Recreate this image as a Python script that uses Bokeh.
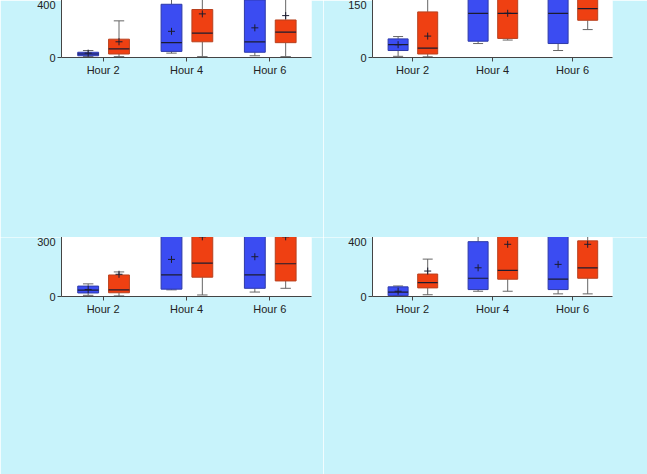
from bokeh.plotting import figure
from bokeh.models import Range1d, FixedTicker, Label, Legend, LegendItem, Title
from bokeh.layouts import gridplot
from bokeh.core.properties import value
from bokeh.embed import file_html
from bokeh.resources import INLINE

# ---------------- data ----------------
hours = ["Hour 2", "Hour 4", "Hour 6"]
ctrl_label = "Control group"
ylabel = "Acetylamantadine concentration (ng/ml)"
title_line1 = "Acetylamantadine concentration"

# Panel A: breast cancer vs control
a_ctrl_low = [1, 5, 2]
a_ctrl_q1 = [2, 7, 6]
a_ctrl_med = [4, 17, 18]
a_ctrl_q3 = [6, 61, 66]
a_ctrl_high = [8, 80, 113]
a_ctrl_mean = [5, 30, 34]
a_bc_low = [1, 1, 1]
a_bc_q1 = [4, 18, 17]
a_bc_med = [10, 28, 29]
a_bc_q3 = [21, 55, 43]
a_bc_high = [42, 105, 69]
a_bc_mean = [18, 50, 48]
a_out_hour = [0, 0, 0, 1, 1, 1, 1, 2, 2, 2, 2, 2, 2]
a_out_val = [271, 78, 70, 306, 229, 176, 114, 381, 244, 145, 113, 90, 87]
a_p = ["p = 0.02", "p = 0.36", "p = 0.18"]
a_subtitle = "breast cancer vs. control group"
a_bc_label = "Breast cancer"

# Panel B: stage II
b_ctrl_low = [0.5, 6, 3]
b_ctrl_q1 = [3, 7, 6]
b_ctrl_med = [5.5, 19, 19]
b_ctrl_q3 = [8, 63, 68]
b_ctrl_high = [9, 81, 113]
b_ctrl_mean = [5.5, 32, 34]
b_bc_low = [0.3, 7.5, 12]
b_bc_q1 = [1.5, 8.2, 16]
b_bc_med = [4, 19, 21]
b_bc_q3 = [19.6, 29, 40.6]
b_bc_high = [30.6, 33, 57]
b_bc_mean = [9.2, 19, 26.4]
b_out_hour = []
b_out_val = []
b_p = ["p = 0.60", "p = 0.75", "p = 0.75"]
b_subtitle = "Stage II breast cancer vs. control group"
b_bc_label = "Stage II breast cancer"

# Panel C: stage III
c_ctrl_low = [1, 5.7, 3.8]
c_ctrl_q1 = [3, 6.3, 7]
c_ctrl_med = [5.5, 18.4, 18.4]
c_ctrl_q3 = [8.9, 62.8, 68.5]
c_ctrl_high = [10.8, 81, 112]
c_ctrl_mean = [6, 31.7, 34]
c_bc_low = [0.5, 1.3, 7]
c_bc_q1 = [3.2, 16.5, 13.3]
c_bc_med = [5.7, 28.5, 28]
c_bc_q3 = [18.4, 54.5, 59.6]
c_bc_high = [21, 106, 112]
c_bc_mean = [19, 51, 51]
c_out_hour = [0, 0, 1, 2]
c_out_val = [77, 68, 230, 243]
c_p = ["p = 0.18", "p = 0.67", "p = 0.29"]
c_subtitle = "Stage III breast cancer vs. control group"
c_bc_label = "Stage III breast cancer"

# Panel D: stage IV
d_ctrl_low = [0.5, 6, 3]
d_ctrl_q1 = [1, 7.9, 7.9]
d_ctrl_med = [5, 20.8, 19.7]
d_ctrl_q3 = [11, 62.5, 68.5]
d_ctrl_high = [12, 80.4, 112]
d_ctrl_mean = [6, 32.7, 36.6]
d_bc_low = [2, 6, 3]
d_bc_q1 = [9.8, 19.7, 20.8]
d_bc_med = [15.8, 29.8, 32.7]
d_bc_q3 = [25.6, 70.3, 63.4]
d_bc_high = [42.6, 114, 92.3]
d_bc_mean = [29, 59.5, 59.5]
d_out_hour = [0, 1, 1, 2, 2]
d_out_val = [270, 304, 177, 378, 144]
d_p = ["p < 0.01", "p = 0.23", "p = 0.14"]
d_subtitle = "Stage IV breast cancer vs. control group"
d_bc_label = "Stage IV breast cancer"

# ---------------- style ----------------
FONT = "helvetica"
FS = "11px"
BG = "#C8F3FB"
BLUE = "#3B4CF2"
BLUE_EDGE = "#2E3AA8"
RED = "#EF4012"
RED_EDGE = "#B8401E"
DARK = "#1c1c30"
GREY = "#666666"
AX = "#444444"

BOX_W = 0.25
OFF_CTRL = -0.18
OFF_BC = 0.19


def make_panel(w, h, mbl, mbr, mbt, mbb, ymax, ystep, subtitle, tstand, letter, lxy,
               lab_stand, ctrl, bc, out_hour, out_val, pvals, level, bc_label):
    p = figure(width=w, height=h, x_range=Range1d(0, 3), y_range=Range1d(0, ymax),
               output_backend="svg", toolbar_location=None,
               min_border_left=mbl, min_border_right=mbr,
               min_border_top=mbt, min_border_bottom=mbb)
    p.background_fill_color = "white"
    p.border_fill_color = BG
    p.outline_line_color = None
    p.xgrid.visible = False
    p.ygrid.visible = False

    frame_w = w - mbl - mbr
    frame_h = h - mbt - mbb
    upp = ymax / frame_h          # data units per pixel (y)
    xpp = 3.0 / frame_w           # data units per pixel (x)

    # two-line title (closest line first)
    p.title.text = subtitle
    p.title.text_font = FONT
    p.title.text_font_size = FS
    p.title.text_font_style = "bold"
    p.title.align = "center"
    p.title.standoff = tstand
    p.title.text_color = "#111111"
    p.add_layout(Title(text=title_line1, text_font=FONT, text_font_size=FS,
                       text_font_style="bold", align="center", standoff=0,
                       text_color="#111111"), "above")

    # axes
    p.xaxis.ticker = FixedTicker(ticks=[i + 0.5 for i in range(len(hours))])
    p.xaxis.major_label_overrides = {i + 0.5: hours[i] for i in range(len(hours))}
    p.yaxis.ticker = FixedTicker(ticks=list(range(0, ymax + 1, ystep)))
    for ax in (p.xaxis, p.yaxis):
        ax.axis_line_color = AX
        ax.major_tick_line_color = AX
        ax.minor_tick_line_color = None
        ax.major_tick_in = 0
        ax.major_tick_out = 4
        ax.major_label_text_font = FONT
        ax.major_label_text_font_size = FS
        ax.major_label_text_color = "#222222"
        ax.major_label_standoff = 2
    p.yaxis.axis_label = ylabel
    p.yaxis.axis_label_text_font = FONT
    p.yaxis.axis_label_text_font_size = FS
    p.yaxis.axis_label_text_font_style = "bold"
    p.yaxis.axis_label_standoff = lab_stand
    p.yaxis.axis_label_text_color = "#111111"

    renderers = []
    for stats, off, fill, edge in ((ctrl, OFF_CTRL, BLUE, BLUE_EDGE), (bc, OFF_BC, RED, RED_EDGE)):
        low, q1, med, q3, high, mean = stats
        xs = [i + 0.5 + off for i in range(len(hours))]
        cap = BOX_W * 0.5
        p.segment(x0=xs, y0=q3, x1=xs, y1=high, line_color=GREY, line_width=1)
        p.segment(x0=xs, y0=q1, x1=xs, y1=low, line_color=GREY, line_width=1)
        p.segment(x0=[x - cap / 2 for x in xs], y0=high, x1=[x + cap / 2 for x in xs], y1=high,
                  line_color=GREY, line_width=1)
        p.segment(x0=[x - cap / 2 for x in xs], y0=low, x1=[x + cap / 2 for x in xs], y1=low,
                  line_color=GREY, line_width=1)
        r = p.vbar(x=xs, width=BOX_W, top=q3, bottom=q1, fill_color=fill,
                   line_color=edge, line_width=1)
        renderers.append(r)
        p.segment(x0=[x - BOX_W / 2 for x in xs], y0=med, x1=[x + BOX_W / 2 for x in xs], y1=med,
                  line_color=DARK, line_width=1.2)
        p.scatter(x=xs, y=mean, marker="cross", size=7, line_color=DARK, line_width=1)

    if out_hour:
        p.scatter(x=[hh + 0.5 + OFF_BC for hh in out_hour], y=out_val, marker="circle",
                  size=4.5, fill_color="black", line_color="black")

    # brackets with p-values
    yh = level * ymax
    yend = yh - 5 * upp
    ytop = yh + 6 * upp
    ytxt = yh + 14 * upp
    bxs, bys = [], []
    for i in range(len(hours)):
        x0 = i + 0.5 - 0.17
        x1 = i + 0.5 + 0.26
        xc = (x0 + x1) / 2
        bxs.append([x0, x0, xc, xc, xc, x1, x1])
        bys.append([yend, yh, yh, ytop, yh, yh, yend])
    p.multi_line(bxs, bys, line_color="#555555", line_width=1)
    p.text(x=[i + 0.5 + 0.045 for i in range(len(hours))], y=[ytxt] * len(hours), text=pvals,
           text_font=value(FONT), text_font_size=FS, text_align="center",
           text_baseline="middle", text_color="#222222")

    # legend
    legend = Legend(items=[LegendItem(label=ctrl_label, renderers=[renderers[0]]),
                           LegendItem(label=bc_label, renderers=[renderers[1]])],
                    orientation="horizontal", location="center",
                    glyph_width=9, glyph_height=9, label_standoff=5,
                    spacing=6, padding=2, margin=1,
                    label_text_font=FONT, label_text_font_size=FS,
                    label_text_color="#111111",
                    border_line_color="#333333", border_line_width=1,
                    background_fill_color="white", background_fill_alpha=1.0)
    p.add_layout(legend, "below")

    # panel letter (placed by pixel offset from the frame's lower-left corner)
    p.add_layout(Label(x=lxy[0] * xpp, y=lxy[1] * upp, text=letter,
                       text_font=FONT, text_font_size="13px",
                       text_font_style="bold", text_align="center", text_baseline="middle",
                       text_color="#111111"))
    return p


pA = make_panel(323, 237, 60, 7, 42, 40, 400, 100, a_subtitle, 3, "Ⓐ", (-31, 181), 0,
                (a_ctrl_low, a_ctrl_q1, a_ctrl_med, a_ctrl_q3, a_ctrl_high, a_ctrl_mean),
                (a_bc_low, a_bc_q1, a_bc_med, a_bc_q3, a_bc_high, a_bc_mean),
                a_out_hour, a_out_val, a_p, 0.78, a_bc_label)
pB = make_panel(324, 237, 48, 31, 57, 40, 150, 50, b_subtitle, 5, "Ⓑ", (-35, 180), 2,
                (b_ctrl_low, b_ctrl_q1, b_ctrl_med, b_ctrl_q3, b_ctrl_high, b_ctrl_mean),
                (b_bc_low, b_bc_q1, b_bc_med, b_bc_q3, b_bc_high, b_bc_mean),
                b_out_hour, b_out_val, b_p, 0.833, b_bc_label)
pC = make_panel(323, 237, 61, 12, 35, 44, 300, 100, c_subtitle, 1, "Ⓒ", (-36, 181), 0,
                (c_ctrl_low, c_ctrl_q1, c_ctrl_med, c_ctrl_q3, c_ctrl_high, c_ctrl_mean),
                (c_bc_low, c_bc_q1, c_bc_med, c_bc_q3, c_bc_high, c_bc_mean),
                c_out_hour, c_out_val, c_p, 0.782, c_bc_label)
pD = make_panel(324, 237, 49, 35, 59, 44, 400, 100, d_subtitle, 1, "Ⓓ", (-32, 182), 3,
                (d_ctrl_low, d_ctrl_q1, d_ctrl_med, d_ctrl_q3, d_ctrl_high, d_ctrl_mean),
                (d_bc_low, d_bc_q1, d_bc_med, d_bc_q3, d_bc_high, d_bc_mean),
                d_out_hour, d_out_val, d_p, 0.771, d_bc_label)

grid = gridplot([[pA, pB], [pC, pD]], toolbar_location=None)

open("out.html", "w").write(file_html(grid, INLINE))
